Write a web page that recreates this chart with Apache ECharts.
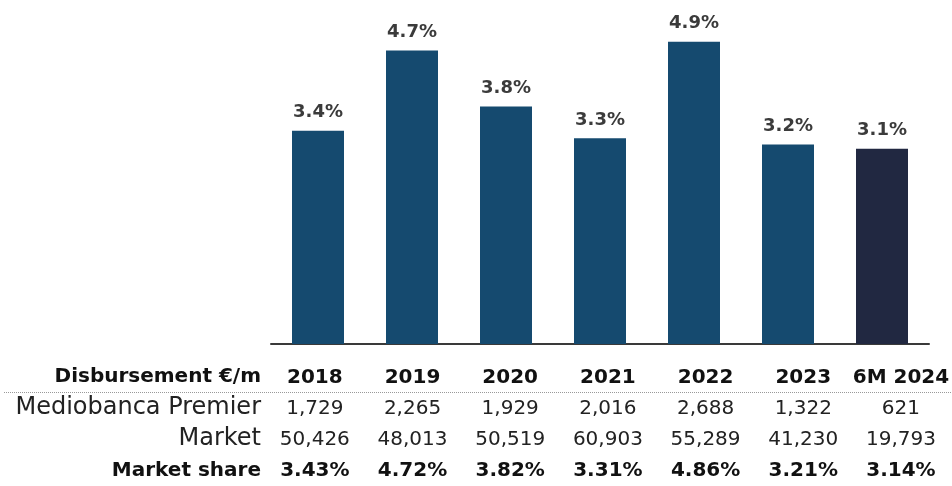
<!DOCTYPE html>
<html>
<head>
<meta charset="utf-8">
<script src="https://cdn.jsdelivr.net/npm/echarts@6/dist/echarts.min.js"></script>
<style>
  html, body { margin: 0; padding: 0; background: #fff; }
  #main { width: 952px; height: 486px; }
</style>
</head>
<body>
<div id="main"></div>
<script>
  // data
  var years = ['2018', '2019', '2020', '2021', '2022', '2023', '6M 2024'];
  var premier = [1729, 2265, 1929, 2016, 2688, 1322, 621];
  var market = [50426, 48013, 50519, 60903, 55289, 41230, 19793];
  var share = [3.43, 4.72, 3.82, 3.31, 4.86, 3.21, 3.14];
  var rowLabels = ['Disbursement €/m', 'Mediobanca Premier', 'Market', 'Market share'];

  var font = 'DejaVu Sans';
  function fmt(n) {
    return n.toString().replace(/\B(?=(\d{3})+(?!\d))/g, ',');
  }

  var barData = share.map(function (v, i) {
    return {
      value: v,
      itemStyle: { color: i == share.length - 1 ? '#212841' : '#154a6f' }
    };
  });

  var rowTop = [377, 408, 439, 471];
  var graphics = rowLabels.map(function (t, i) {
    var bold = (i == 0 || i == 3);
    return {
      type: 'text',
      x: 261,
      y: rowTop[i],
      style: {
        text: t,
        align: 'right',
        verticalAlign: 'middle',
        fontFamily: font,
        fontSize: bold ? 20 : 24,
        fontWeight: bold ? 'bold' : 'normal',
        fill: bold ? '#111' : '#222'
      }
    };
  });
  graphics.push({
    type: 'line',
    shape: { x1: 4, y1: 392.5, x2: 952, y2: 392.5 },
    style: { stroke: '#999', lineWidth: 1, lineDash: [1, 1] }
  });

  var chart = echarts.init(document.getElementById('main'));
  chart.setOption({
    animation: false,
    grid: [
      { left: 271, right: 23, top: 2, bottom: 142 },
      { left: 266, right: 0, top: 350, height: 10 }
    ],
    xAxis: [
      {
        type: 'category',
        gridIndex: 0,
        data: years,
        axisLine: { lineStyle: { color: '#3a3a3a', width: 2 } },
        axisTick: { show: false },
        axisLabel: { show: false }
      },
      {
        type: 'category',
        gridIndex: 1,
        data: years,
        axisLine: { show: false },
        axisTick: { show: false },
        axisLabel: {
          interval: 0,
          margin: 2,
          hideOverlap: false,
          formatter: function (v, i) {
            return '{h|' + v + '}\n{r|' + fmt(premier[i]) + '}\n{r|' +
              fmt(market[i]) + '}\n{h|' + share[i].toFixed(2) + '%}';
          },
          rich: {
            h: { fontFamily: font, fontSize: 20, fontWeight: 'bold', color: '#111', lineHeight: 31 },
            r: { fontFamily: font, fontSize: 20, color: '#222', lineHeight: 31 }
          }
        }
      }
    ],
    yAxis: [
      { type: 'value', gridIndex: 0, min: 0, max: 5.5, show: false },
      { type: 'value', gridIndex: 1, show: false }
    ],
    series: [
      {
        type: 'bar',
        xAxisIndex: 0,
        yAxisIndex: 0,
        barWidth: 52,
        data: barData,
        label: {
          show: true,
          position: 'top',
          distance: 9,
          fontFamily: font,
          fontSize: 18,
          fontWeight: 'bold',
          color: '#3b3b3b',
          formatter: function (p) { return p.value.toFixed(1) + '%'; }
        }
      }
    ],
    graphic: graphics
  });
</script>
</body>
</html>
